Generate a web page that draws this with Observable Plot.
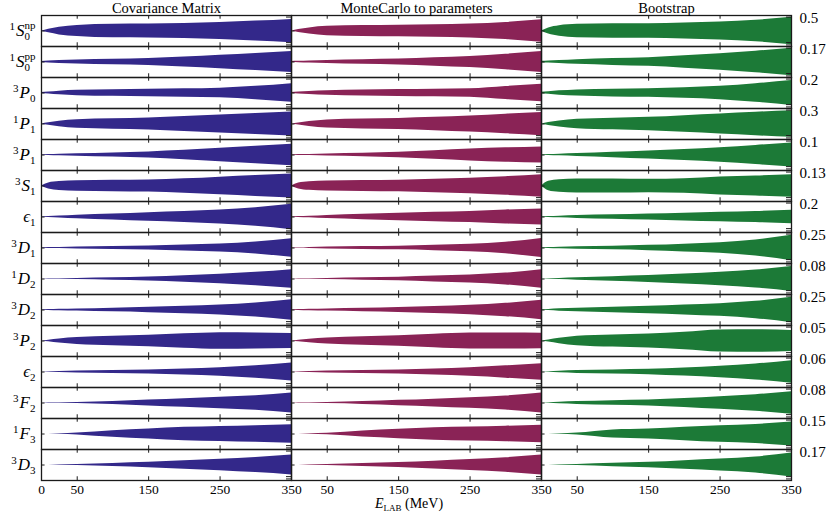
<!DOCTYPE html>
<html><head><meta charset="utf-8">
<script src="https://cdn.jsdelivr.net/npm/d3@7"></script>
<script src="https://cdn.jsdelivr.net/npm/@observablehq/plot@0.6"></script>
<style>body{margin:0;background:#fff}#chart{width:830px;height:515px}</style>
</head><body><div id="chart"></div>
<script>
// Energies (MeV) at which band half-widths were read
const energies = [0, 10, 25, 50, 100, 150, 200, 250, 300, 350];
// Partial waves (rows)
const waves = ["1S0np","1S0pp","3P0","1P1","3P1","3S1","E1","3D1","1D2","3D2","3P2","E2","3F2","1F3","3D3"];
// label parts: [pre-superscript, symbol, subscript, post-superscript]
const waveLabels = [
  ["1","S","0","np"],["1","S","0","pp"],["3","P","0",""],["1","P","1",""],["3","P","1",""],
  ["3","S","1",""],["","\u03F5","1",""],["3","D","1",""],["1","D","2",""],["3","D","2",""],
  ["3","P","2",""],["","\u03F5","2",""],["3","F","2",""],["1","F","3",""],["3","D","3",""]
];
// Right-hand scale of each row (band normalized to this value)
const scales = ["0.5","0.17","0.2","0.3","0.1","0.13","0.2","0.25","0.08","0.25","0.05","0.06","0.08","0.15","0.17"];
const methods = ["cov","mc","boot"];
const methodTitles = ["Covariance Matrix","MonteCarlo to parameters","Bootstrap"];
const methodColors = ["#33288a","#8a2356","#1c7a37"];
const xTickLabels = [0, 50, 150, 250, 350];
const innerTicks = [50, 150, 250];

// Normalized half-widths (fraction of row scale), one row per wave
const covBand = [
  [0,0.12,0.25,0.36,0.44,0.45,0.48,0.55,0.64,0.75],
  [0.04,0.06,0.09,0.13,0.18,0.23,0.32,0.43,0.55,0.67],
  [0.04,0.07,0.12,0.17,0.21,0.24,0.27,0.31,0.43,0.6],
  [0,0.08,0.18,0.28,0.34,0.39,0.48,0.58,0.67,0.77],
  [0.02,0.03,0.05,0.08,0.13,0.2,0.3,0.43,0.56,0.69],
  [0,0.2,0.29,0.34,0.37,0.39,0.46,0.57,0.67,0.77],
  [0.01,0.03,0.06,0.11,0.19,0.28,0.36,0.45,0.6,0.82],
  [0.02,0.03,0.04,0.07,0.1,0.13,0.19,0.26,0.39,0.6],
  [0,0.01,0.02,0.04,0.08,0.13,0.21,0.3,0.43,0.6],
  [0.02,0.03,0.05,0.07,0.12,0.17,0.24,0.32,0.45,0.66],
  [0,0.05,0.13,0.22,0.3,0.37,0.47,0.54,0.52,0.49],
  [0,0.01,0.03,0.07,0.1,0.13,0.2,0.28,0.41,0.58],
  [0,0.01,0.02,0.04,0.1,0.19,0.28,0.37,0.47,0.64],
  [0,0,0.01,0.06,0.21,0.32,0.43,0.49,0.54,0.6],
  [0,0,0.01,0.04,0.1,0.17,0.27,0.37,0.49,0.64]
];
const mcBand = [
  [0,0.1,0.2,0.3,0.35,0.37,0.4,0.45,0.55,0.72],
  [0.04,0.05,0.07,0.1,0.15,0.19,0.27,0.36,0.5,0.68],
  [0.03,0.06,0.1,0.15,0.19,0.22,0.24,0.27,0.42,0.57],
  [0,0.07,0.16,0.26,0.32,0.36,0.43,0.52,0.63,0.75],
  [0.02,0.03,0.04,0.07,0.11,0.17,0.27,0.38,0.46,0.52],
  [0,0.19,0.28,0.32,0.35,0.37,0.43,0.5,0.6,0.72],
  [0.01,0.03,0.05,0.1,0.17,0.24,0.3,0.36,0.45,0.52],
  [0.02,0.02,0.04,0.06,0.09,0.12,0.17,0.24,0.37,0.62],
  [0,0.01,0.02,0.04,0.08,0.12,0.19,0.26,0.38,0.6],
  [0.02,0.03,0.05,0.07,0.11,0.16,0.22,0.3,0.43,0.63],
  [0,0.05,0.12,0.2,0.28,0.34,0.44,0.52,0.52,0.5],
  [0,0.01,0.03,0.06,0.09,0.13,0.2,0.28,0.4,0.54],
  [0,0.01,0.02,0.04,0.09,0.17,0.25,0.34,0.45,0.64],
  [0,0,0.01,0.05,0.2,0.3,0.4,0.45,0.5,0.57],
  [0,0,0.01,0.04,0.09,0.16,0.25,0.35,0.47,0.64]
];
const bootBand = [
  [0,0.2,0.34,0.43,0.46,0.47,0.52,0.58,0.69,0.88],
  [0.05,0.07,0.1,0.15,0.22,0.28,0.4,0.54,0.7,0.88],
  [0.05,0.08,0.14,0.2,0.25,0.28,0.34,0.43,0.6,0.8],
  [0,0.1,0.2,0.3,0.37,0.43,0.54,0.65,0.76,0.86],
  [0.02,0.03,0.05,0.09,0.17,0.26,0.36,0.47,0.62,0.77],
  [0,0.3,0.4,0.45,0.45,0.43,0.47,0.58,0.65,0.73],
  [0.01,0.03,0.05,0.09,0.14,0.19,0.25,0.3,0.36,0.43],
  [0.02,0.03,0.05,0.08,0.12,0.17,0.25,0.34,0.52,0.82],
  [0,0.02,0.04,0.08,0.15,0.22,0.32,0.43,0.58,0.8],
  [0.02,0.04,0.08,0.12,0.18,0.24,0.32,0.41,0.56,0.82],
  [0,0.07,0.17,0.3,0.39,0.45,0.56,0.71,0.73,0.67],
  [0,0.02,0.05,0.09,0.13,0.17,0.26,0.37,0.52,0.73],
  [0,0.02,0.05,0.09,0.15,0.19,0.29,0.41,0.54,0.73],
  [0,0,0.01,0.06,0.26,0.32,0.43,0.54,0.62,0.77],
  [0,0,0.01,0.04,0.11,0.17,0.28,0.39,0.52,0.77]
];
const bands = [covBand, mcBand, bootBand];

// Build tidy table
const rows = [];
methods.forEach((m, mi) => bands[mi].forEach((arr, wi) => arr.forEach((w, ei) =>
  rows.push({method: m, wave: waves[wi], E: energies[ei], w}))));
const lastWave = waves[waves.length - 1];
const xLabelRows = [];
methods.forEach((m, mi) => xTickLabels.forEach(E => {
  if (mi === 0 || E !== 0) xLabelRows.push({method: m, wave: lastWave, E});
}));
const titleRows = methods.map((m, i) => ({method: m, wave: waves[0], title: methodTitles[i]}));
const scaleRows = waves.map((w, i) => ({method: "boot", wave: w, s: scales[i]}));
const leftRows = waves.map(w => ({method: "cov", wave: w}));

const serif = "'Liberation Serif','DejaVu Serif',serif";
const plot = Plot.plot({
  width: 830, height: 515,
  marginLeft: 40, marginRight: 38, marginTop: 14.5, marginBottom: 35,
  fx: {domain: methods, padding: 0, axis: null},
  fy: {domain: waves, padding: 0, axis: null},
  x: {domain: [0, 350], axis: null},
  y: {domain: [-1, 1], axis: null},
  color: {domain: methods, range: methodColors},
  style: {fontFamily: serif, fontSize: "13px", background: "white", color: "black"},
  marks: [
    Plot.areaY(rows, {x: "E", y1: d => -d.w, y2: d => d.w, fx: "method", fy: "wave",
      fill: "method", curve: "monotone-x"}),
    Plot.frame({stroke: "#1a1a1a", strokeWidth: 1.3}),
    Plot.ruleX(innerTicks, {x: d => d, y1: 1, y2: 0.76, stroke: "#1a1a1a", strokeWidth: 1}),
    Plot.ruleX(innerTicks, {x: d => d, y1: -1, y2: -0.76, stroke: "#1a1a1a", strokeWidth: 1}),
    Plot.ruleY([0], {y: d => d, x1: 0, x2: 5, stroke: "#1a1a1a", strokeWidth: 1}),
    Plot.ruleY([0.9, -0.75, -0.9], {y: d => d, x1: 343, x2: 350, stroke: "#1a1a1a", strokeWidth: 1}),
    Plot.text(xLabelRows, {x: "E", fx: "method", fy: "wave", text: d => String(d.E),
      frameAnchor: "bottom", lineAnchor: "top", dy: 4, fontSize: 13.5}),
    Plot.text(titleRows, {fx: "method", fy: "wave", text: "title", frameAnchor: "top",
      lineAnchor: "middle", dy: -7.5, fontSize: 14.5}),
    Plot.text(scaleRows, {fx: "method", fy: "wave", x: 350, y: 0.84, text: "s",
      textAnchor: "start", dx: 8, fontSize: 15}),
    Plot.text(leftRows, {fx: "method", fy: "wave", x: 0, y: 0, text: "wave",
      textAnchor: "end", dx: -6, fontSize: 17})
  ]
});
document.getElementById("chart").appendChild(plot);

// Rich formatting for partial-wave labels (super/subscripts)
const labelMap = new Map(waves.map((w, i) => [w, waveLabels[i]]));
plot.querySelectorAll('text').forEach(t => {
  const key = t.textContent;
  if (!labelMap.has(key)) return;
  const [pre, sym, sub, post] = labelMap.get(key);
  const sel = d3.select(t);
  sel.text(null);
  let shift = 0;
  if (pre) { sel.append("tspan").attr("font-size", 11).attr("dy", -6).text(pre); shift = -6; }
  sel.append("tspan").attr("font-style", "italic").attr("dy", -shift).attr("dx", pre ? 1 : 0).text(sym);
  sel.append("tspan").attr("font-size", 11).attr("dy", 4).text(sub);
  if (post) sel.append("tspan").attr("font-size", 11).attr("dx", -5.5).attr("dy", -11).text(post);
});

// Axis title E_LAB (MeV)
const svg = d3.select(plot);
const xt = svg.append("text").attr("x", 409).attr("y", 508).attr("text-anchor", "middle")
  .attr("font-family", serif).attr("font-size", 14).attr("fill", "black");
xt.append("tspan").attr("font-style", "italic").text("E");
xt.append("tspan").attr("font-size", 9).attr("dy", 3).text("LAB");
xt.append("tspan").attr("dy", -3).text(" (MeV)");
</script></body></html>
